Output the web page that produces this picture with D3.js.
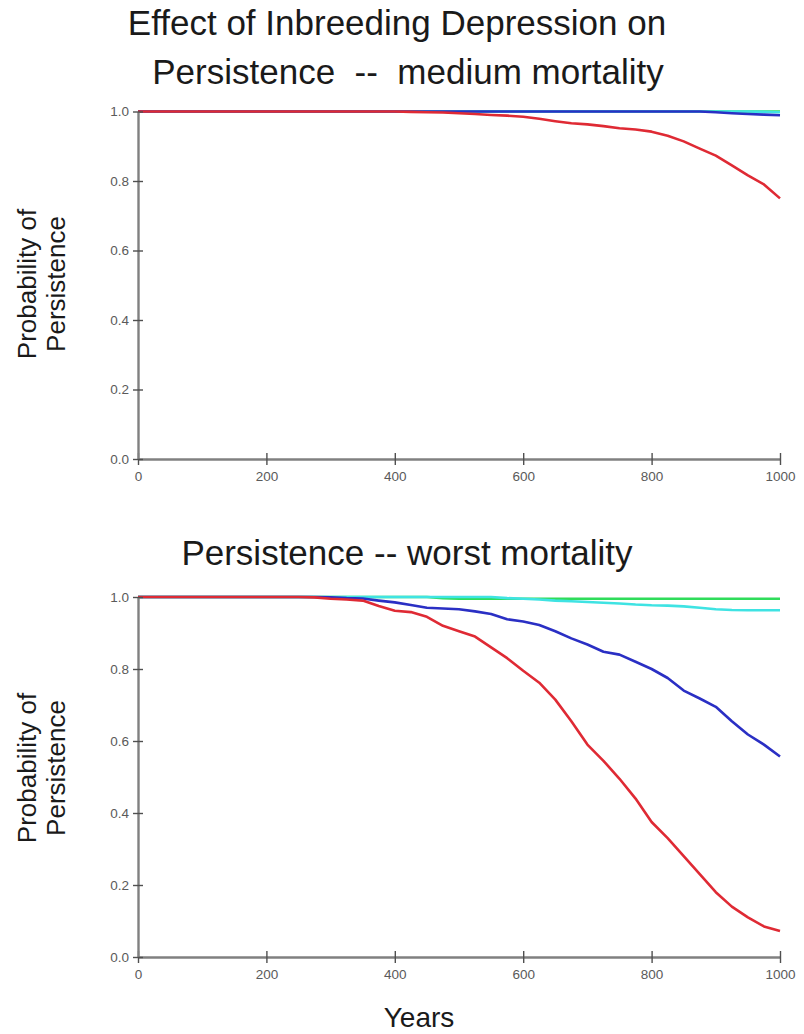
<!DOCTYPE html>
<html>
<head>
<meta charset="utf-8">
<script src="https://cdn.jsdelivr.net/npm/d3@7"></script>
<style>
  html, body { margin: 0; padding: 0; background: #ffffff; }
  svg text { font-family: "Liberation Sans", Arial, sans-serif; white-space: pre; }
</style>
</head>
<body>
<svg id="chart" width="804" height="1034"></svg>
<script>
// ---------- data ----------
const years = [0,25,50,75,100,125,150,175,200,225,250,275,300,325,350,375,400,425,450,475,500,
               525,550,575,600,625,650,675,700,725,750,775,800,825,850,875,900,925,950,975,1000];

// Top panel: medium mortality
const topGreen = [1,1,1,1,1,1,1,1,1,1,1,1,1,1,1,1,1,1,1,1,1,
                  1,1,1,1,1,1,1,1,1,1,1,1,1,1,1,1,1,1,1,1];
const topCyan  = [1,1,1,1,1,1,1,1,1,1,1,1,1,1,1,1,1,1,1,1,1,
                  1,1,1,1,1,1,1,1,1,1,1,1,1,1,1,1,1,1,0.999,0.998];
const topBlue  = [1,1,1,1,1,1,1,1,1,1,1,1,1,1,1,1,1,1,1,1,1,
                  1,1,1,1,1,1,1,1,1,1,1,1,1,1,1,0.998,0.995,0.993,0.991,0.989];
const topRed   = [1,1,1,1,1,1,1,1,1,1,1,1,1,1,1,1,1,0.999,0.998,0.997,0.995,
                  0.993,0.99,0.988,0.985,0.979,0.972,0.966,0.963,0.958,0.952,0.948,0.942,0.93,0.914,0.893,0.873,0.845,0.816,0.79,0.75];

// Bottom panel: worst mortality
const botGreen = [1,1,1,1,1,1,1,1,1,1,1,1,1,1,1,1,1,1,1,0.997,0.995,
                  0.995,0.995,0.995,0.995,0.995,0.995,0.995,0.995,0.995,0.995,0.995,0.995,0.995,0.995,0.995,0.995,0.995,0.995,0.995,0.995];
const botCyan  = [1,1,1,1,1,1,1,1,1,1,1,1,1,1,1,1,1,1,1,1,1,
                  1,1,0.997,0.995,0.993,0.99,0.988,0.986,0.984,0.982,0.979,0.977,0.976,0.974,0.97,0.966,0.964,0.963,0.963,0.963];
const botBlue  = [1,1,1,1,1,1,1,1,1,1,1,1,0.999,0.997,0.996,0.99,0.985,0.978,0.97,0.968,0.966,
                  0.96,0.953,0.938,0.932,0.922,0.905,0.885,0.868,0.848,0.84,0.82,0.8,0.775,0.74,0.718,0.695,0.655,0.618,0.59,0.557];
const botRed   = [1,1,1,1,1,1,1,1,1,1,1,0.999,0.995,0.993,0.99,0.975,0.962,0.958,0.945,0.92,0.905,
                  0.89,0.86,0.83,0.795,0.762,0.715,0.655,0.59,0.545,0.495,0.44,0.375,0.33,0.28,0.23,0.18,0.14,0.11,0.085,0.072];

const xTicks = [0,200,400,600,800,1000];
const yTicks = [0,0.2,0.4,0.6,0.8,1.0];

const titleLines1 = ["Effect of Inbreeding Depression on", "Persistence  --  medium mortality"];
const titleLines2 = ["Persistence -- worst mortality"];
const yLabelLines = ["Probability of", "Persistence"];
const xLabel = "Years";

const seriesColors = { green: "#2fdc5a", cyan: "#3fe3e3", blue: "#2a2fc4", red: "#df2a34" };

// ---------- drawing ----------
const svg = d3.select("#chart");
svg.append("rect").attr("width", 804).attr("height", 1034).attr("fill", "#ffffff");

const x = d3.scaleLinear().domain([0, 1000]).range([138, 780]);

function panel(yTop, yBottom, series, labelCy) {
  const y = d3.scaleLinear().domain([0, 1]).range([yBottom, yTop]);
  const g = svg.append("g");

  const line = d3.line().x((d, i) => x(years[i])).y(d => y(d));
  series.forEach(s => {
    g.append("path")
      .attr("d", line(s.values))
      .attr("fill", "none")
      .attr("stroke", s.color)
      .attr("stroke-width", 2.6)
      .attr("stroke-linejoin", "round");
  });

  // axes
  const xa = g.append("g").attr("transform", `translate(0,${yBottom})`)
    .call(d3.axisBottom(x).tickValues(xTicks).tickFormat(d3.format("d")).tickSize(0).tickPadding(12));
  const ya = g.append("g").attr("transform", `translate(${x(0)},0)`)
    .call(d3.axisLeft(y).tickValues(yTicks).tickFormat(d3.format(".1f")).tickSize(0).tickPadding(9));
  [xa, ya].forEach(a => {
    a.select(".domain").attr("stroke", "#808080").attr("stroke-width", 2.4);
    a.selectAll("text").attr("fill", "#5a5a5a").attr("font-size", 13.5);
  });
  // crossing tick marks
  xa.selectAll(".tick").append("line").attr("y1", -6).attr("y2", 6)
    .attr("stroke", "#505050").attr("stroke-width", 1.4);
  ya.selectAll(".tick").append("line").attr("x1", -5).attr("x2", 5)
    .attr("stroke", "#505050").attr("stroke-width", 1.4);

  // y label
  yLabelLines.forEach((t, i) => {
    g.append("text")
      .attr("transform", `translate(${36 + i * 29},${labelCy}) rotate(-90)`)
      .attr("text-anchor", "middle")
      .attr("font-size", 26)
      .attr("fill", "#1a1a1a")
      .text(t);
  });
  return g;
}

panel(111.5, 459, [
  { values: topGreen, color: seriesColors.green },
  { values: topCyan,  color: seriesColors.cyan },
  { values: topBlue,  color: seriesColors.blue },
  { values: topRed,   color: seriesColors.red }
], 284);

panel(597, 957, [
  { values: botGreen, color: seriesColors.green },
  { values: botCyan,  color: seriesColors.cyan },
  { values: botBlue,  color: seriesColors.blue },
  { values: botRed,   color: seriesColors.red }
], 768);

// titles
svg.append("text").attr("x", 397).attr("y", 35).attr("text-anchor", "middle")
  .attr("font-size", 35).attr("fill", "#1a1a1a").text(titleLines1[0]);
svg.append("text").attr("x", 408).attr("y", 84).attr("text-anchor", "middle")
  .attr("font-size", 35).attr("fill", "#1a1a1a").text(titleLines1[1]);
svg.append("text").attr("x", 407).attr("y", 565).attr("text-anchor", "middle")
  .attr("font-size", 35).attr("fill", "#1a1a1a").text(titleLines2[0]);
svg.append("text").attr("x", 419).attr("y", 1027).attr("text-anchor", "middle")
  .attr("font-size", 28).attr("fill", "#1a1a1a").text(xLabel);
</script>
</body>
</html>
